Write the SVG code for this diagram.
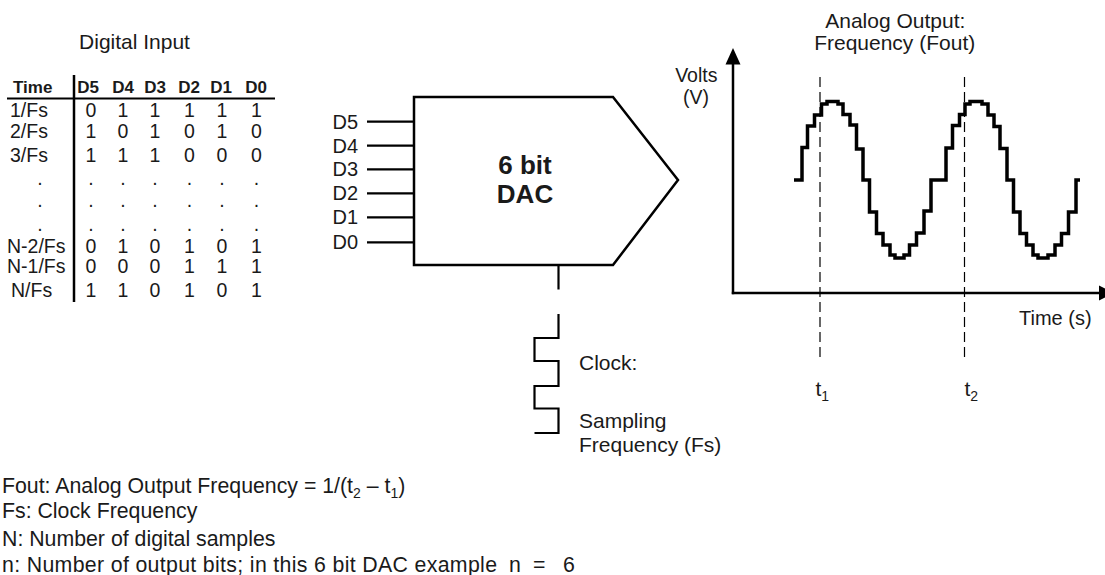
<svg xmlns="http://www.w3.org/2000/svg" width="1105" height="575" viewBox="0 0 1105 575">
<style>
text{font-family:"Liberation Sans",Arial,sans-serif;fill:#1a1a1a;font-size:21px}
.tb{font-size:19.5px}
.th{font-size:17px;font-weight:bold}
.big{font-size:26px;font-weight:bold}
.f20{font-size:20px}
.f19{font-size:19.5px}
.nt{font-size:21.3px}
.mid{text-anchor:middle}
.sub{font-size:14px}
.ln{stroke:#000;fill:none}
</style>
<rect width="1105" height="575" fill="#fff"/>
<g id="table">
<text class="mid" x="134.5" y="49">Digital Input</text>
<line class="ln" x1="7" y1="98.5" x2="275" y2="98.5" stroke-width="2"/>
<line class="ln" x1="74" y1="75" x2="74" y2="302" stroke-width="2.5"/>
<text class="th" x="13" y="93">Time</text>
<text class="th mid" x="88" y="93">D5</text><text class="th mid" x="123" y="93">D4</text><text class="th mid" x="155" y="93">D3</text><text class="th mid" x="189" y="93">D2</text><text class="th mid" x="221" y="93">D1</text><text class="th mid" x="256" y="93">D0</text>
<text class="tb" x="10" y="116.7">1/Fs</text>
<text class="tb" x="10" y="138.3">2/Fs</text>
<text class="tb" x="10" y="161.7">3/Fs</text>
<text class="tb mid" x="40" y="185">.</text>
<text class="tb mid" x="40" y="206.7">.</text>
<text class="tb mid" x="40" y="230.7">.</text>
<text class="tb" x="7" y="253.3">N-2/Fs</text>
<text class="tb" x="7" y="273.3">N-1/Fs</text>
<text class="tb" x="11" y="297.3">N/Fs</text>
<text class="tb mid" y="116.7"><tspan x="91">0</tspan><tspan x="123">1</tspan><tspan x="155">1</tspan><tspan x="189.5">1</tspan><tspan x="222">1</tspan><tspan x="256.5">1</tspan></text>
<text class="tb mid" y="138.3"><tspan x="91">1</tspan><tspan x="123">0</tspan><tspan x="155">1</tspan><tspan x="189.5">0</tspan><tspan x="222">1</tspan><tspan x="256.5">0</tspan></text>
<text class="tb mid" y="161.7"><tspan x="91">1</tspan><tspan x="123">1</tspan><tspan x="155">1</tspan><tspan x="189.5">0</tspan><tspan x="222">0</tspan><tspan x="256.5">0</tspan></text>
<text class="tb mid" y="185"><tspan x="91">.</tspan><tspan x="123">.</tspan><tspan x="155">.</tspan><tspan x="189.5">.</tspan><tspan x="222">.</tspan><tspan x="256.5">.</tspan></text>
<text class="tb mid" y="206.7"><tspan x="91">.</tspan><tspan x="123">.</tspan><tspan x="155">.</tspan><tspan x="189.5">.</tspan><tspan x="222">.</tspan><tspan x="256.5">.</tspan></text>
<text class="tb mid" y="230.7"><tspan x="91">.</tspan><tspan x="123">.</tspan><tspan x="155">.</tspan><tspan x="189.5">.</tspan><tspan x="222">.</tspan><tspan x="256.5">.</tspan></text>
<text class="tb mid" y="253.3"><tspan x="91">0</tspan><tspan x="123">1</tspan><tspan x="155">0</tspan><tspan x="189.5">1</tspan><tspan x="222">0</tspan><tspan x="256.5">1</tspan></text>
<text class="tb mid" y="273.3"><tspan x="91">0</tspan><tspan x="123">0</tspan><tspan x="155">0</tspan><tspan x="189.5">1</tspan><tspan x="222">1</tspan><tspan x="256.5">1</tspan></text>
<text class="tb mid" y="297.3"><tspan x="91">1</tspan><tspan x="123">1</tspan><tspan x="155">0</tspan><tspan x="189.5">1</tspan><tspan x="222">0</tspan><tspan x="256.5">1</tspan></text>
</g>
<g id="dac">
<polygon class="ln" points="414,97 613,97 678,180 613,265 414,265" stroke-width="2.5" stroke-linejoin="miter"/>
<text class="big mid" x="525" y="174">6 bit</text>
<text class="big mid" x="525" y="203.3">DAC</text>
</g>
<g id="inputs">
<g class="ln" stroke-width="2.2">
<line x1="367" y1="121.7" x2="414" y2="121.7"/>
<line x1="367" y1="145.7" x2="414" y2="145.7"/>
<line x1="367" y1="169.3" x2="414" y2="169.3"/>
<line x1="367" y1="193.3" x2="414" y2="193.3"/>
<line x1="367" y1="217.3" x2="414" y2="217.3"/>
<line x1="367" y1="242.3" x2="414" y2="242.3"/>
</g>
<text class="f20" x="332.5" y="128.7">D5</text>
<text class="f20" x="332.5" y="152.7">D4</text>
<text class="f20" x="332.5" y="176.3">D3</text>
<text class="f20" x="332.5" y="200.3">D2</text>
<text class="f20" x="332.5" y="224.3">D1</text>
<text class="f20" x="332.5" y="249.3">D0</text>
</g>
<g id="clock">
<line class="ln" x1="558.5" y1="265" x2="558.5" y2="289.5" stroke-width="2.2"/>
<path class="ln" d="M558.5,314 V338 H534.5 V361 H558.5 V386 H534.5 V408.5 H558.5 V433 H534.5" stroke-width="2.2"/>
<text x="579" y="370">Clock:</text>
<text x="579" y="428.3">Sampling</text>
<text x="579" y="452.3">Frequency (Fs)</text>
</g>
<g id="graph">
<line class="ln" x1="733" y1="294.2" x2="733" y2="62" stroke-width="2.5"/>
<polygon points="733,48 725.5,64.5 740.5,64.5" fill="#000"/>
<line class="ln" x1="731.8" y1="293" x2="1100" y2="293" stroke-width="2.5"/>
<polygon points="1099,285.5 1114,293 1099,300.5" fill="#000"/>
<g class="ln" stroke-width="1.2" stroke-dasharray="10 5">
<line x1="820" y1="77" x2="820" y2="362"/>
<line x1="964.5" y1="77" x2="964.5" y2="362"/>
</g>
<path class="ln" stroke-width="3.5" d="M794,180 H802 V147.5 H807.5 V126 H814.5 V115 H821.5 V104 H827 V101.5 H838 V104 H843 V114.5 H850 V125 H856.5 V149 H863 V180 H869.5 V212 H876.5 V233.5 H883 V245 H890 V255 H895 V258 H904 V255 H909.5 V245 H916.5 V233 H924 V211 H931 V180 H946 V148 H952.5 V125.5 H959.5 V114.5 H965 V104 H970 V101.5 H982 V104 H988 V115 H994 V126.5 H1000 V148.5 H1007 V180 H1013.5 V212 H1020 V233.5 H1026.5 V245 H1033 V255 H1038 V258 H1048 V255 H1055 V245 H1061.5 V233.5 H1068.5 V212 H1076 V180 H1080"/>
<text class="mid" x="895.3" y="28.3">Analog Output:</text>
<text class="mid" x="894.7" y="50">Frequency (Fout)</text>
<text class="mid f19" x="696.3" y="82.2">Volts</text>
<text class="mid f19" x="696" y="104">(V)</text>
<text class="mid f20" x="1055.3" y="325">Time (s)</text>
<text x="815.5" y="396">t<tspan class="sub" dy="5">1</tspan></text>
<text x="964.5" y="396">t<tspan class="sub" dy="5">2</tspan></text>
</g>
<g id="notes">
<text class="nt" x="2" y="492.7">Fout: Analog Output Frequency = 1/(t<tspan class="sub" dy="5">2</tspan><tspan dy="-5"> – t</tspan><tspan class="sub" dy="5">1</tspan><tspan dy="-5">)</tspan></text>
<text class="nt" x="2" y="518.3">Fs: Clock Frequency</text>
<text class="nt" x="2" y="546">N: Number of digital samples</text>
<text class="nt" x="2" y="571.7"><tspan textLength="495">n: Number of output bits; in this 6 bit DAC example</tspan><tspan x="509">n</tspan><tspan x="533">=</tspan><tspan x="563">6</tspan></text>
</g>
</svg>
